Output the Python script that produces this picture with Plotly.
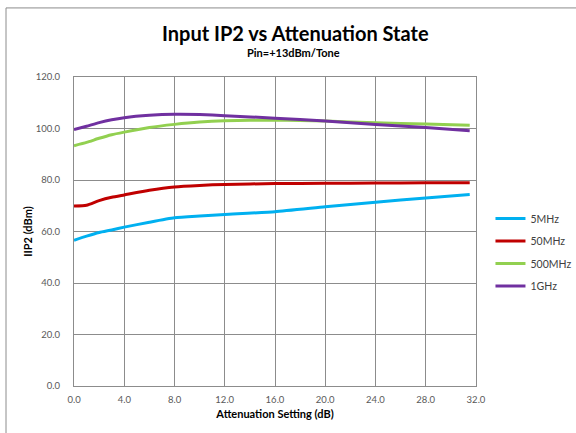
import plotly.graph_objects as go

atten = [0, 1, 2, 3, 4, 6, 8, 10, 12, 16, 20, 24, 28, 31.5]
mhz5 = [56.6, 58.2, 59.6, 60.6, 61.7, 63.6, 65.3, 66.0, 66.6, 67.7, 69.6, 71.4, 73.0, 74.4]
mhz50 = [69.9, 70.2, 72.0, 73.3, 74.2, 76.0, 77.3, 77.9, 78.3, 78.6, 78.7, 78.8, 78.9, 78.9]
mhz500 = [93.3, 94.6, 96.2, 97.6, 98.6, 100.4, 101.6, 102.5, 103.0, 103.3, 102.9, 102.2, 101.7, 101.3]
ghz1 = [99.6, 100.9, 102.3, 103.4, 104.2, 105.1, 105.5, 105.4, 105.0, 104.0, 102.9, 101.6, 100.4, 99.1]

names = ["5MHz", "50MHz", "500MHz", "1GHz"]
colors = ["#00B0F0", "#C00000", "#92D050", "#7030A0"]
series = [mhz5, mhz50, mhz500, ghz1]

x_ticks = [0, 4, 8, 12, 16, 20, 24, 28, 32]
y_ticks = [0, 20, 40, 60, 80, 100, 120]

FONT = "Lato"

fig = go.Figure()
for n, c, s in zip(names, colors, series):
    fig.add_trace(go.Scatter(x=atten, y=s, name=n, mode="lines",
                             line=dict(color=c, width=3, shape="spline", smoothing=0.5),
                             legendgroup=n))

grid = "#8C8C8C"
fig.update_layout(
    width=576, height=433,
    margin=dict(l=74, r=100, t=77, b=47, autoexpand=False),
    paper_bgcolor="white", plot_bgcolor="white",
    font=dict(family=FONT, color="#404040", size=11),
    showlegend=True,
    legend=dict(x=1.036, y=0.589, xanchor="left", yanchor="top",
                font=dict(size=10.5, color="#404040", family=FONT),
                tracegroupgap=3.5, bgcolor="rgba(0,0,0,0)"),
    annotations=[
        dict(text="<b>Input IP2 vs Attenuation State</b>", xref="paper", yref="paper",
             x=0.552, y=(385.7 - 33) / 308.7, xanchor="center", yanchor="middle",
             showarrow=False, font=dict(size=20, color="#000000", family=FONT)),
        dict(text="<b>Pin=+13dBm/Tone</b>", xref="paper", yref="paper",
             x=0.546, y=(385.7 - 53) / 308.7, xanchor="center", yanchor="middle",
             showarrow=False, font=dict(size=11, color="#000000", family=FONT)),
    ],
    shapes=[
        dict(type="line", xref="paper", yref="paper", x0=(6 - 74) / 402, x1=(6 - 74) / 402,
             y0=(385.7 - 8) / 308.7, y1=(385.7 - 450) / 308.7, line=dict(color="#8C8C8C", width=1)),
        dict(type="line", xref="paper", yref="paper", x0=(6 - 74) / 402, x1=(590 - 74) / 402,
             y0=(385.7 - 8) / 308.7, y1=(385.7 - 8) / 308.7, line=dict(color="#8C8C8C", width=1)),
    ],
)
fig.update_xaxes(range=[0, 32], tickvals=x_ticks, tickformat=".1f", automargin=False,
                 showgrid=True, gridcolor=grid, gridwidth=1,
                 showline=True, linecolor=grid, mirror=True, zeroline=False,
                 ticks="", ticklabelstandoff=5,
                 tickfont=dict(size=9.5, color="#595959"),
                 title=dict(text="<b>Attenuation Setting (dB)</b>", standoff=5,
                            font=dict(size=11, color="#000000")))
fig.update_yaxes(range=[0, 120], tickvals=y_ticks, tickformat=".1f", automargin=False,
                 showgrid=True, gridcolor=grid, gridwidth=1,
                 showline=True, linecolor=grid, mirror=True, zeroline=False,
                 ticks="", ticklabelstandoff=11,
                 tickfont=dict(size=9.5, color="#595959"),
                 title=dict(text="<b>IIP2 (dBm)</b>", standoff=0,
                            font=dict(size=11, color="#000000")))

fig.write_html("out.html", config={"displayModeBar": False},
               post_script="document.body.style.margin='0';")
